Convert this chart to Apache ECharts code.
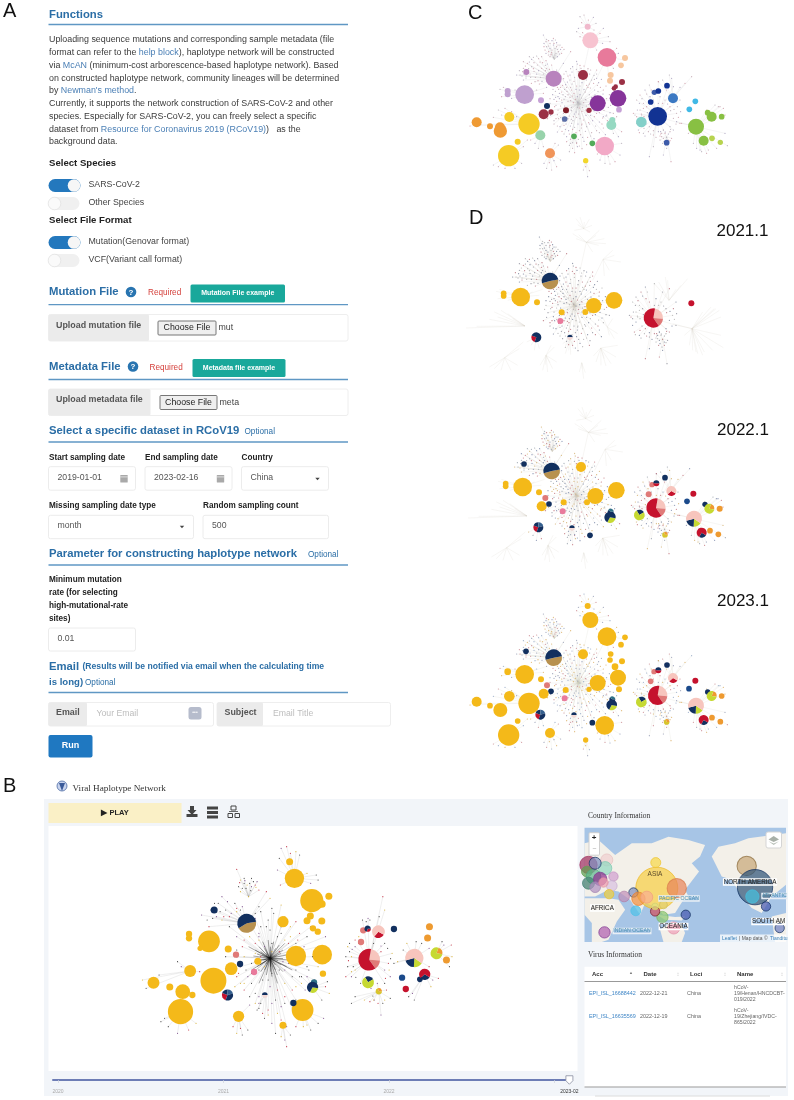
<!DOCTYPE html>
<html><head><meta charset="utf-8"><style>html,body{margin:0;background:#fff}#c{width:794px;height:1100px}</style>
<script src="https://cdn.jsdelivr.net/npm/echarts@6/dist/echarts.min.js"></script></head><body><div id="c"></div>
<script>
const pal={y:'#f4b919',navy:'#12305f',tan:'#b8914f',red:'#c5122d',salmon:'#e07a78',pink:'#f7c5bd',hot:'#e97a9c',yg:'#c6d932',org:'#ee9a30',blue:'#1b4a8b',steel:'#35608f',teal:'#2e6f86',pale:'#f3d9d6',gold:'#d8c52c',
 cPink:'#f0b9cc',cRose:'#f7c3d0',cHot:'#e87a9b',cPeach:'#f7c79f',cWine:'#9b3045',cPurp:'#86349a',cLil:'#c6a1d6',cMauve:'#b883bd',cLav:'#bfa0cf',cDark:'#7d1a25',cSlate:'#5a6ea6',cOrg:'#ef9a33',cYel:'#f5cb24',cMint:'#98d3ab',cCoral:'#f0955a',cGreen:'#54ab5a',cLem:'#f2d62b',cBub:'#f2a9c6',cAqua:'#96d9c2',cTeal:'#83d0c9',cCob:'#123393',cMid:'#3d5ba9',cSky:'#3b78c2',cCyan:'#41b9e6',cLeaf:'#88c043',cLime:'#b7d34f'};

// ---- panel C / D nodes: [x, y, diameter, colour key], layout units
const nodesC=[[443,80,18,'cPink'],[451,121,48,'cRose'],[501,172,56,'cHot'],[555,174,18,'cPeach'],[543,196,17,'cPeach'],[512,225,18,'cPeach'],[510,242,18,'cPeach'],[546,246,18,'cWine'],[527,260,14,'cWine'],[522,265,14,'cWine'],[534,295,50,'cPurp'],[537,329,17,'cLil'],[473,310,48,'cPurp'],[429,225,30,'cWine'],[341,236,48,'cMauve'],[259,216,18,'cMauve'],[254,284,56,'cLav'],[203,273,18,'cLav'],[203,283,18,'cLav'],[303,301,18,'cLil'],[321,318,18,'navy'],[333,336,16,'cWine'],[311,343,30,'cWine'],[378,331,18,'cDark'],[447,331,16,'cWine'],[374,357,17,'cSlate'],[110,367,30,'cOrg'],[150,379,18,'cOrg'],[181,393,40,'cOrg'],[180,382,30,'cOrg'],[208,351,30,'cYel'],[267,372,64,'cYel'],[301,406,30,'cMint'],[233,425,18,'cYel'],[206,467,64,'cYel'],[330,460,30,'cCoral'],[402,409,17,'cGreen'],[457,430,17,'cGreen'],[437,482,16,'cLem'],[494,438,56,'cBub'],[514,375,30,'cAqua'],[517,360,18,'cAqua'],[604,366,32,'cTeal'],[653,349,56,'cCob'],[680,428,17,'cMid'],[699,295,30,'cSky'],[632,306,17,'cCob'],[643,277,16,'cMid'],[655,273,17,'cCob'],[681,257,17,'cCob'],[766,304,17,'cCyan'],[748,328,17,'cCyan'],[768,380,48,'cLeaf'],[815,350,30,'cLeaf'],[803,338,17,'cLeaf'],[845,350,17,'cLeaf'],[791,422,30,'cLeaf'],[816,415,17,'cLime'],[841,427,16,'cLime']];
const nodesD1=[[191,280,17,'y'],[191,288,17,'y'],[242,291,56,'y'],[291,307,18,'y'],[365,337,18,'y'],[461,317,46,'y'],[436,336,18,'y'],[522,301,50,'y'],[361,363,18,'hot'],[754,310,18,'red']];
const nodesD2=[[197,281,17,'y'],[197,289,17,'y'],[248,291,56,'y'],[297,307,18,'y'],[371,337,18,'y'],[466,318,48,'y'],[441,337,18,'y'],[529,301,50,'y'],[423,231,30,'y'],[305,349,30,'y'],[327,342,17,'navy'],[316,324,18,'salmon'],[368,364,18,'hot'],[252,222,17,'navy'],[450,436,17,'navy'],[636,284,16,'salmon'],[675,263,17,'navy'],[626,313,18,'salmon'],[741,334,17,'blue'],[760,311,18,'red'],[795,343,16,'navy'],[839,356,18,'org'],[810,422,17,'org'],[835,433,17,'org']];
const nodesD3=[[443,78,18,'y'],[451,120,48,'y'],[501,170,56,'y'],[555,172,17,'y'],[543,194,17,'y'],[512,222,17,'y'],[510,240,17,'y'],[546,244,18,'y'],[525,260,20,'y'],[534,293,48,'y'],[537,328,18,'y'],[473,309,48,'y'],[447,328,16,'y'],[429,223,30,'y'],[254,283,56,'y'],[203,275,20,'y'],[303,298,18,'y'],[321,316,18,'salmon'],[333,334,17,'navy'],[311,341,30,'y'],[377,330,18,'y'],[374,355,18,'hot'],[110,365,30,'y'],[150,377,17,'y'],[181,390,42,'y'],[208,349,32,'y'],[267,370,64,'y'],[233,423,17,'y'],[206,465,64,'y'],[330,459,30,'y'],[437,480,16,'y'],[494,436,56,'y'],[258,214,17,'navy'],[457,428,17,'navy'],[642,275,16,'salmon'],[681,255,17,'navy'],[632,304,17,'salmon'],[747,326,17,'blue'],[766,302,18,'red'],[803,336,16,'navy'],[845,348,17,'org'],[816,413,17,'org'],[841,425,17,'org']];
// ---- pie nodes: [x, y, diameter, start angle, [[share, colour key], ...]]
const piesD1=[[330,243,50,-10,[[.486,'tan'],[.514,'navy']]],[289,412,30,110,[[.25,'red'],[.75,'navy']]],[390,412,16,180,[[.5,'navy'],[.5,'pale']]],[640,354,58,-80,[[.236,'pink'],[.139,'salmon'],[.625,'red']]]];
const piesD2=[[335,243,50,-10,[[.486,'tan'],[.514,'navy']]],[295,412,30,110,[[.25,'red'],[.2,'navy'],[.2,'steel'],[.35,'navy']]],[396,414,16,180,[[.5,'navy'],[.5,'pale']]],[512,365,18,0,[[.6,'navy'],[.4,'teal']]],[510,382,34,10,[[.3,'yg'],[.7,'navy']]],[648,354,58,-80,[[.236,'pink'],[.139,'salmon'],[.625,'red']]],[694,303,30,30,[[.3,'red'],[.7,'pink']]],[649,280,18,0,[[.5,'red'],[.5,'navy']]],[598,375,32,-120,[[.25,'navy'],[.75,'yg']]],[675,434,17,0,[[.7,'gold'],[.3,'org']]],[762,386,48,35,[[.16,'yg'],[.2,'navy'],[.64,'pink']]],[785,428,30,30,[[.25,'navy'],[.75,'red']]],[808,356,30,-70,[[.22,'org'],[.78,'yg']]]];
const piesD3=[[341,233,50,-10,[[.486,'tan'],[.514,'navy']]],[301,404,30,110,[[.25,'red'],[.2,'navy'],[.2,'steel'],[.35,'navy']]],[402,405,16,180,[[.5,'navy'],[.5,'pale']]],[517,358,18,0,[[.6,'navy'],[.4,'teal']]],[515,375,32,10,[[.3,'yg'],[.7,'navy']]],[653,346,58,-80,[[.236,'pink'],[.139,'salmon'],[.625,'red']]],[699,294,30,30,[[.3,'red'],[.7,'pink']]],[655,271,18,0,[[.5,'red'],[.5,'navy']]],[604,366,32,-120,[[.25,'navy'],[.75,'yg']]],[680,426,17,0,[[.7,'gold'],[.3,'org']]],[768,377,48,35,[[.16,'yg'],[.2,'navy'],[.64,'pink']]],[791,420,30,30,[[.25,'navy'],[.75,'red']]],[815,348,30,-70,[[.22,'org'],[.78,'yg']]]];

// ---- shared network skeleton (hub x, hub y, leaves x,y,x,y ...)
const fanCore=[345,240,352,262,338,284,330,310,336,332,348,356,360,380,372,402,392,418,410,430,432,424,452,408,470,392,486,372,498,348,505,322,500,296,490,270,476,248,462,226,444,206,420,196,398,200,378,214,362,228,368,256,382,246,404,232,428,236,448,252,464,270,474,292,480,316,470,340,458,362,440,380,418,392,398,388,378,372,362,352,354,330,350,304,358,280,374,268,392,262,410,258,432,268,448,284,458,304,452,326,438,346,420,356,400,350,384,338,374,318,372,298,384,284,402,280,420,284,436,298,440,318,426,334,408,336,394,322,392,302,406,298,420,312,412,322,342,372,322,356,352,396,388,436,426,446,460,430,496,404,515,300,520,340,470,210,410,184,350,210,355,245,365,300,380,330,395,370,425,375,445,330,465,285,455,240,435,222,415,215,390,225];
const fanH2=[240,225,250,205,262,190,275,178,290,168,305,170,318,182,262,216,272,232,285,245,298,252,250,240,275,200,292,195,305,205,290,222,310,222,320,205,335,195,230,225,268,170,250,185,392,155,370,190,258,228,282,214,300,186];
const fanH3=[312,130,320,118,330,130,340,115,350,128,360,135,372,148,365,160,352,170,340,172,325,165,315,150,330,145,345,145,355,155,335,158,310,105,320,140,350,140,342,130,362,148];
const fanTop1=[420,50,432,45,445,60,460,52,468,70,462,90,425,68,415,85];
const fanTop2=[410,95,420,110,428,98,490,85,505,110,510,125,480,100,488,130,470,150,430,215];
const fanN=[530,145,535,160,520,205,505,222,555,180,470,235];
const fanW1=[180,268,190,262,185,290,215,295,225,270,290,270,310,280,320,262];
const fanW2=[175,330,195,325,215,335,230,350,185,345,160,352,90,378,122,373];
const fanW3=[160,495,175,500,195,505,225,505,245,490,250,440,262,420];
const fanS1=[285,430,295,445,310,440,272,420];
const fanS2=[312,490,320,505,335,510,350,500,362,480,355,435,345,430,328,488,342,482];
const fanS3=[392,430,398,445,404,458,412,440,388,455,410,428,380,425];
const fanS4=[443,530,430,510,448,512,437,500];
const fanS5=[480,480,495,490,510,492,525,485,540,465,545,430,505,470,472,462];
const fanE1=[490,350,500,345,530,350,545,395,535,410,520,400];
const fanEast=[590,300,600,285,615,270,628,255,655,245,680,270,700,260,720,300,710,340,720,370,700,390,690,380,600,330,590,350,595,390,610,400,625,395,640,405,655,395,670,390,610,310,620,320,630,290,660,290,675,300,690,320,628,470,640,440,605,345,580,340];
const fanSub=[662,395,670,390,690,395,695,415,685,430,672,425,665,410,693,485,670,465,680,445,660,420];
const fanNE=[655,245,695,235,688,225,755,230,735,250,720,262,668,240];
const fanTree=[840,320,855,345,855,400,862,437,830,445,800,460,780,450,760,430,745,400,725,370,710,365,825,315,835,320,850,325,770,445,785,455,805,450,800,330];
const netFans=[['core',415,310,fanCore],['h2',341,236,fanH2],['h3',343,178,fanH3],['top1',443,80,fanTop1],['top2',451,121,fanTop2],['n',501,172,fanN],['w1',254,284,fanW1],['w2',267,372,fanW2],['w3',206,467,fanW3],['s1',301,406,fanS1],['s2',330,460,fanS2],['s3',402,409,fanS3],['s4',437,482,fanS4],['s5',494,438,fanS5],['e1',514,375,fanE1],['east',653,349,fanEast],['sub',680,410,fanSub],['ne',699,295,fanNE],['tree',768,380,fanTree]];
// dots without their own edge drawn
const cloudCore=[352,250,361,243,371,236,384,228,396,216,409,208,423,205,437,213,449,222,463,238,472,256,481,262,489,282,496,307,492,331,488,354,478,366,467,378,455,398,443,412,428,412,415,418,402,410,388,402,376,388,368,364,352,344,344,320,342,298,346,274,356,268,365,276,377,254,390,240,402,244,415,226,426,248,439,240,451,264,461,250,470,308,466,322,478,338,463,350,449,372,436,394,422,404,408,398,391,378,384,356,370,340,362,318,358,296,369,284,381,274,395,270,408,268,420,258,436,276,444,262,455,292,447,314,443,336,430,360,414,372,399,362,388,348,378,328,366,308,376,290,390,292,400,308,413,306,425,294,431,308,418,324,403,342,394,332,384,304,397,288,412,290,428,322,416,342,437,330,347,292,339,268,330,296,326,322,332,346,342,362,352,378,366,394,380,410,398,428,418,438,440,434,462,416,478,398,490,384,502,362,510,338,512,316,508,284,498,258,484,238,470,222,452,210,432,198,412,192,392,206,372,222,356,236,344,256,348,316,356,356,372,376,386,392,404,382,424,384,446,368,462,332,474,274,462,296,440,256,418,270,396,252,380,262,362,262,354,290,394,358,410,352,426,372,452,346,438,300];
const cloudH2=[248,215,256,198,268,186,280,172,296,176,308,188,322,192,258,234,270,222,280,206,296,212,302,232,316,212,328,208,246,228,238,212,282,188,294,242,306,244,266,206,286,232,274,250,252,222,316,196];
const cloudH3=[318,125,326,122,336,122,346,120,354,135,366,142,358,162,348,160,336,150,326,155,318,160,345,165,330,170,312,140,340,135,352,148,325,138,333,164];
const cloudEast=[598,310,606,296,620,282,634,270,592,330,585,345,590,370,598,398,615,408,632,402,648,412,662,402,676,396,692,388,708,372,715,352,722,335,712,320,702,328,612,350,618,372,628,380,640,392,610,325,622,338,612,385,600,360,604,342,683,312,692,332,700,355,668,310,655,310,640,300];
const cloudSub=[665,400,675,400,685,402,680,412,670,415,690,422,678,435,668,430,685,420,660,408];
const netClouds=[['core',cloudCore],['h2',cloudH2],['h3',cloudH3],['east',cloudEast],['sub',cloudSub]];

// ---- panel B
const nodesB=[[783,275,20,'y'],[796,325,55,'y'],[843,392,66,'y'],[870,402,22,'y'],[889,379,20,'y'],[839,438,20,'y'],[830,452,20,'y'],[870,453,20,'y'],[765,455,32,'y'],[846,475,18,'y'],[859,485,18,'y'],[800,558,58,'y'],[871,554,56,'y'],[873,611,18,'y'],[697,574,20,'y'],[617,537,20,'y'],[565,514,62,'y'],[511,492,18,'y'],[511,505,18,'y'],[541,535,15,'y'],[625,596,36,'y'],[514,603,34,'y'],[577,632,74,'y'],[415,638,34,'y'],[459,651,20,'y'],[494,665,42,'y'],[520,675,18,'y'],[488,725,72,'y'],[645,739,32,'y'],[765,766,20,'y'],[818,720,62,'y'],[579,420,20,'navy'],[649,582,18,'navy'],[793,699,18,'navy'],[638,554,18,'salmon'],[687,606,18,'hot'],[849,637,18,'teal'],[982,481,18,'salmon'],[976,516,18,'salmon'],[1065,477,18,'navy'],[1087,623,18,'blue'],[1097,657,18,'red'],[1135,628,16,'navy'],[1161,470,20,'org'],[1156,504,20,'org'],[1207,570,20,'org']];
const piesB=[[667,460,54,-10,[[.44,'tan'],[.56,'navy']]],[615,675,32,110,[[.25,'red'],[.2,'navy'],[.2,'steel'],[.35,'navy']]],[716,675,16,180,[[.5,'navy'],[.5,'pale']]],[845,652,32,10,[[.3,'yg'],[.7,'navy']]],[998,569,62,-80,[[.236,'pink'],[.139,'salmon'],[.625,'red']]],[1023,485,36,30,[[.28,'red'],[.72,'pink']]],[994,476,18,0,[[.3,'red'],[.7,'navy']]],[995,637,34,-120,[[.25,'navy'],[.75,'yg']]],[1024,664,18,0,[[.7,'gold'],[.3,'org']]],[1120,564,52,35,[[.16,'yg'],[.2,'navy'],[.64,'pink']]],[1148,613,32,30,[[.3,'navy'],[.7,'red']]],[1180,550,34,-70,[[.22,'org'],[.78,'yg']]]];
const fanBInner=[690,540,700,530,710,515,725,510,740,515,755,525,765,540,775,555,780,570,775,590,765,605,750,615,735,620,720,615,705,605,695,590,688,575,685,558,695,552,705,545,715,535,730,530,745,535,760,550,765,565,760,585,745,600,730,605,715,600,703,585,700,570,708,555,720,548,735,550,748,558,752,572,745,585,730,590,718,582,712,570,720,560,735,565,672,530,680,600,770,520,790,600,750,640,700,640];
const fanBCore=[620,470,640,500,655,530,660,560,665,600,680,640,700,680,725,720,750,730,770,700,800,690,825,660,850,630,860,590,800,520,830,500,840,470,800,455,770,440,740,430,720,470,700,490,690,520,690,550,700,600,710,630,730,650,750,660,770,640,790,620,800,600,780,580,790,540,770,510,750,500,735,520,715,530,705,560,715,590,735,610,755,600,765,575,755,545,735,545,720,555,680,580,670,620,660,660,690,700,715,745,745,790,775,770,640,620,650,640,640,560,610,560,880,500,860,530,760,405,735,415,705,425,690,445,660,510,675,500,705,470,745,690,760,710,790,660,815,640,835,600,845,560,820,540,810,490,785,470,760,470,725,450,680,470,650,590,635,650,675,680,700,715,735,760,760,750,795,730,680,610,725,630,770,600,780,520,700,510];
const fanBH2=[590,400,570,420,545,435,565,470,600,450,610,420,635,400,600,380,720,365,730,385,700,410,690,430,585,440,620,440,640,425,595,425,575,445,655,410];
const fanBH3=[640,298,650,330,660,340,680,325,695,335,700,360,650,365,645,350,665,355,680,350,690,345,672,380,660,325,675,340];
const fanBTop=[760,235,775,230,800,245,810,255,755,265,750,300,758,345,830,310,855,315,860,330,840,340,785,250];
const fanBEast=[940,530,935,560,940,590,950,620,935,620,960,600,975,640,1040,640,1055,620,1050,580,1060,550,1040,520,980,450,995,445,1035,380,1040,420,1025,440,1010,520,960,530,970,520,950,560,945,545,955,590,1040,600,1030,545];
const fanBLow=[1010,690,1035,700,1055,685,1030,735,1000,695,985,690,950,700,960,680,1020,640,1045,660];
const fanBNet=[1100,520,1125,515,1140,520,1160,535,1160,590,1075,575,1090,540,1065,580];
const fanBFar=[1200,525,1220,525,1222,560,1215,590,1195,515];
const fanBRed=[1170,630,1185,625,1165,650,1120,690,1105,680,1115,670];
const fanBA=[630,770,640,790,655,795,670,780,675,705,650,775];
const fanBC=[820,770,840,780,860,760,875,745,800,770,830,765];
const fanBD=[435,755,455,770,480,790,510,780,530,760,445,745];
const fanBE=[480,575,490,590,540,605,385,630,395,655,430,615];
const fanBF=[770,810,775,830,760,800,785,795];
const fanBG=[815,620,830,620,880,650,890,670,870,690,885,635];
const fanBH=[700,700,710,730,725,735,695,720];
const netFansB=[['c',730,565,fanBCore],['h2',667,460,fanBH2],['h3',672,380,fanBH3],['t',796,325,fanBTop],['e',998,569,fanBEast],['l',1024,664,fanBLow],['n',1120,564,fanBNet],['f',1180,550,fanBFar],['r',1148,613,fanBRed],['a',645,739,fanBA],['c2',818,720,fanBC],['d',488,725,fanBD],['e2',514,603,fanBE],['f2',765,766,fanBF],['g',845,652,fanBG],['h',716,675,fanBH]];
const netFansBInner=[['i',730,565,fanBInner]];
const cloudBEast=[945,520,952,538,942,572,950,605,962,622,985,645,1003,655,1042,625,1052,600,1056,566,1048,535,1030,528,960,510,970,500,990,455,1000,450,1012,690,1022,700,1040,690,1008,678];
const cloudBCore=[650,420,625,430,605,440,585,425,560,450,580,400,615,395,640,415,668,345,655,355,685,335,662,332,648,338,692,352,678,362,640,540,630,580,645,610,660,640,690,670,705,700,735,700,770,680,800,650,810,620,830,590,822,530,805,510,785,500,760,490,730,480,700,500];
const netCloudsB=[['e',cloudBEast],['c',cloudBCore]];

// ---- map bubbles: x, y, radius, fill, stroke
const mapLand=[[[28,130],[70,120],[120,165],[170,130],[230,130],[280,110],[340,120],[390,135],[375,170],[350,190],[372,215],[345,250],[330,270],[345,300],[325,300],[300,340],[265,345],[240,320],[210,310],[195,345],[165,300],[130,275],[100,270],[60,290],[28,290]],[[28,295],[100,295],[130,300],[150,330],[125,365],[100,420],[80,427],[50,427],[50,370],[28,345]],[[255,390],[290,365],[320,375],[330,400],[320,427],[265,427]],[[410,170],[430,140],[480,130],[520,115],[633,100],[633,255],[590,290],[560,340],[530,325],[500,290],[470,240],[440,230]],[[590,350],[633,340],[633,427],[600,427]],[[245,345],[300,352],[330,350],[320,362],[270,360]]];
const mapBubbles=[[40,195,26,'#a03060','#a03060'],[95,180,18,'#f0d0d0','#e8c0c0'],[90,205,20,'#90d8c0','#80c8b0'],[35,215,16,'#60a050','#60a050'],[55,230,22,'#60b890','#50a880'],[40,250,18,'#408070','#408070'],[75,237,20,'#903090','#803a90'],[115,230,14,'#d0a0d0','#c090c0'],[110,258,16,'#d8c0e0','#c8b0d0'],[60,262,16,'#b090c0','#a080b0'],[85,248,14,'#f0a0b0','#e090a0'],[60,190,18,'#8090c0','#12305f'],[245,265,63,'#f6cf45','#edb922'],[242,188,15,'#f6d84a','#edc432'],[305,265,29,'#e8855a','#d87a4a'],[515,198,29,'#c8a878','#8a6b3a'],[540,262,53,'#2f5578','#12305f'],[532,290,20,'#46bedc','#46bedc'],[573,320,14,'#4a5ab0','#12305f'],[614,385,14,'#7080c0','#12305f'],[332,345,14,'#4a5ab0','#12305f'],[262,352,17,'#8cc870','#7cb860'],[296,385,18,'#f0a0b8','#e090a8'],[240,335,14,'#d05060','#7a1a2a'],[182,333,15,'#50c0e8','#50c0e8'],[88,398,17,'#b060b0','#803a90'],[175,278,14,'#8090c0','#12305f'],[147,290,16,'#c090b8','#b080a8'],[190,297,20,'#f09040','#e88030'],[215,292,18,'#f8b090','#f0a080'],[102,283,14,'#f0d040','#e8c030'],[240,320,10,'#e0e080','#d0d070'],[265,315,12,'#e0d070','#d0c060']];

// ---- timeline
const timeTicks=[2020,2021,2022,2023];
const timeLabels=[2020,2021,2022,2023.09];
const timeEnd=2023.09;

const FF='"Liberation Sans",Arial,sans-serif', SF='"Liberation Serif",serif';
const BLUE='#2b6ea6',LINK='#4a7fb5',TXT='#3a3a3a',LINEC='#5f97c4';
const g=[];
const mc=document.createElement('canvas').getContext('2d');
function T(t,x,y,size,fill,o){o=o||{};const w=o.bold?'bold ':'';g.push({type:'text',z:o.z||20,silent:true,style:{text:t,x,y,fill:fill||TXT,font:w+size+'px '+(o.ff||FF),align:o.align||'left',verticalAlign:'middle',textBorderColor:o.halo,textBorderWidth:o.halo?1.5:0}});}
function L(x,y,size,segs){mc.font=size+'px "Liberation Sans"';segs.forEach(s=>{T(s[0],x,y,size,s[1]);x+=mc.measureText(s[0]).width;});}
function R(x,y,w,h,fill,stroke,r,z){g.push({type:'rect',z:z===undefined?0:z,silent:true,shape:{x,y,width:w,height:h,r:r||0},style:{fill:fill||'none',stroke:stroke||null,lineWidth:stroke?1:0}});}
function C(x,y,r,fill,stroke,z){g.push({type:'circle',z:z||20,silent:true,shape:{cx:x,cy:y,r},style:{fill,stroke:stroke||null,lineWidth:stroke?.7:0}});}
function P(pts,fill,z){g.push({type:'polygon',z:z||20,silent:true,shape:{points:pts},style:{fill}});}
function HL(x1,x2,y,col,lw,z){g.push({type:'line',z:z||1,silent:true,shape:{x1,y1:y,x2,y2:y},style:{stroke:col||LINEC,lineWidth:lw||1.3}});}
function toggle(y,on){R(48.5,y,on?32:31,13,on?'#2478bd':'#f0f0f0',null,6.5,1);C(on?74:54.5,y+6.5,6.3,on?'#f6f6f6':'#fafafa',on?null:'#e0e0e0',2);}
function input(x,y,w,h){R(x,y,w,h,'#fff','#ececec',2,1);}
function caret(x,y){P([[x-2.2,y-1.2],[x+2.2,y-1.2],[x,y+1.3]],'#444');}
function cal(x,y){R(x-3.7,y-3.5,7.4,7.5,'#a9a9a9',null,.5,2);HL(x-3.7,x+3.7,y-1.6,'#fff',.6,3);}
function help(x,y){C(x,y,5.3,'#2874b0');T('?',x,y+.3,8,'#fff',{bold:1,align:'center',z:21});}

// panel letters
T('A',3,11.5,20,'#111');T('B',3,786,20,'#111');T('C',468,13,20,'#111');T('D',469,218,20,'#111');
T('2021.1',716.5,231.5,17,'#111');T('2022.1',717,430.5,17,'#111');T('2023.1',717,601.5,17,'#111');

// panel A
T('Functions',49,15,11.3,BLUE,{bold:1});HL(48.5,348,24.5);
const body=[[['Uploading sequence mutations and corresponding sample metadata (file',TXT]],[['format can refer to the ',TXT],['help block',LINK],['), haplotype network will be constructed',TXT]],[['via ',TXT],['McAN',LINK],[' (minimum-cost arborescence-based haplotype network). Based',TXT]],[['on constructed haplotype network, community lineages will be determined',TXT]],[['by ',TXT],["Newman's method",LINK],['.',TXT]],[['Currently, it supports the network construction of SARS-CoV-2 and other',TXT]],[['species. Especially for SARS-CoV-2, you can freely select a specific',TXT]],[['dataset from ',TXT],['Resource for Coronavirus 2019 (RCoV19)',LINK],[')   as the',TXT]],[['background data.',TXT]]];
body.forEach((s,i)=>L(49,40+i*12.75,8.9,s));
T('Select Species',49,163.7,9.6,'#222',{bold:1});
toggle(179,true);T('SARS-CoV-2',88.5,185,8.8,'#444');
toggle(197,false);T('Other Species',88.5,203,8.8,'#444');
T('Select File Format',49,220.5,9.6,'#222',{bold:1});
toggle(236,true);T('Mutation(Genovar format)',88.5,242,8.8,'#444');
toggle(254,false);T('VCF(Variant call format)',88.5,260,8.8,'#444');
function fileBlock(title,ty,hx,rx,bx,bw,btn,ly,gy,gw,up,cx,cw,fn){T(title,49,ty,11.3,BLUE,{bold:1});help(hx,ty);T('Required',rx,ty+1,8.2,'#d43f3a');R(bx,ty-7.5,bw,18,'#19a89b',null,1.5,1);T(btn,bx+bw/2,ty+1.5,7,'#fff',{bold:1,align:'center'});HL(48.5,348,ly);R(48.5,gy,299.5,26.5,'#fff','#eeeeee',2,1);R(48.5,gy,gw,26.5,'#ebebeb',null,1.5,1);T(up,56,gy+11,8.9,'#555',{bold:1});R(cx,gy+6.5,cw,14,'#efefef','#777',1,2);T('Choose File',cx+cw/2,gy+13.5,8.8,'#222',{align:'center'});T(fn,cx+cw+2.5,gy+13.5,8.8,'#444');}
fileBlock('Mutation File',292,131,148,190.5,94.5,'Mutation File example',304.7,314.5,100.5,'Upload mutation file',158,58,'mut');
fileBlock('Metadata File',366.5,133,149.5,192.5,93,'Metadata file example',379.5,389,102,'Upload metadata file',160,57,'meta');
T('Select a specific dataset in RCoV19',49,430.7,11.3,BLUE,{bold:1});T('Optional',244.5,431.5,8.2,BLUE);HL(48.5,348,442);
T('Start sampling date',49,457.5,8.2,'#222',{bold:1});T('End sampling date',145,457.5,8.2,'#222',{bold:1});T('Country',241.5,457.5,8.2,'#222',{bold:1});
input(48.5,466.7,87,23.5);input(145,466.7,87,23.5);input(241.5,466.7,87,23.5);
T('2019-01-01',57.5,478,8.7,'#555');cal(124,478.5);T('2023-02-16',154,478,8.7,'#555');cal(220.5,478.5);T('China',250.5,478,8.7,'#555');caret(317.5,479);
T('Missing sampling date type',49,505.5,8.2,'#222',{bold:1});T('Random sampling count',203,505.5,8.2,'#222',{bold:1});
input(48.5,515.3,145,23.4);input(203,515.3,125.5,23.4);T('month',57.5,526,8.7,'#555');caret(182,527);T('500',212,526,8.7,'#555');
T('Parameter for constructing haplotype network',49,553.5,11.3,BLUE,{bold:1});T('Optional',308,554.5,8.2,BLUE);HL(48.5,348,565);
['Minimum mutation','rate (for selecting','high-mutational-rate','sites)'].forEach((s,i)=>T(s,49,580+i*12.75,8.2,'#222',{bold:1}));
input(48.5,628,87,23);T('0.01',57.5,639,8.7,'#555');
T('Email',49,666.5,11.3,BLUE,{bold:1});T('(Results will be notified via email when the calculating time',82.5,667,8.6,BLUE,{bold:1});
T('is long)',49,682.5,9.6,BLUE,{bold:1});T('Optional',85,683,8.2,BLUE);HL(48.5,348,692.5);
R(48.5,702.5,165,23.5,'#fff','#eeeeee',2,1);R(48.5,702.5,38.5,23.5,'#ebebeb',null,1.5,1);T('Email',56,713,8.9,'#555',{bold:1});T('Your Email',96.5,713.5,8.7,'#bdbdbd');
R(188.5,707,13,12.5,'#b6bccc',null,2.5,2);T('\u2022\u2022\u2022',195,713,5,'#fff',{align:'center'});
R(217,702.5,173.5,23.5,'#fff','#eeeeee',2,1);R(217,702.5,46,23.5,'#ebebeb',null,1.5,1);T('Subject',224.5,713,8.9,'#555',{bold:1});T('Email Title',273,713.5,8.7,'#bdbdbd');
R(48.5,735,44,22.5,'#1f78c1',null,2,1);T('Run',70.5,746,9,'#fff',{bold:1,align:'center'});

// panel B chrome
C(62,786,5,'#c8d4ee','#3a5a9a',3);P([[59,783],[65,783],[62,791]],'#3a5a9a',4);
T('Viral Haplotype Network',72.5,788.5,9.2,'#333',{ff:SF});
R(44,799,744,297,'#f2f5f9',null,0,0);
R(48.5,803,133,20,'#faf0c6',null,0,1);T('\u25B6 PLAY',115,812.5,7.5,'#222',{bold:1,align:'center'});
// toolbar icons
P([[190,806],[194,806],[194,810],[196.5,810],[192,815],[187.5,810],[190,810]],'#444');R(186.5,814,11,3,'#444',null,0,3);
R(207,806.5,11,3,'#444',null,0,3);R(207,811,11,3,'#444',null,0,3);R(207,815.5,11,3,'#444',null,0,3);
R(231,806,5,4,'none','#444',0,3);R(228,813.5,4.5,4,'none','#444',0,3);R(235,813.5,4.5,4,'none','#444',0,3);HL(229,238,811.5,'#444',.8,3);
R(48.5,826,529,245,'#fff',null,0,1);

// right column
T('Country Information',588,816,7.5,'#333',{ff:SF});
R(584.5,827.7,201.5,114.3,'#a7c5e6',null,0,1);
T('Virus Information',588,955,7.5,'#333',{ff:SF});
R(584.5,966.7,201.5,120.5,'#fff',null,0,1);
[['Acc',592],['Date',643.5],['Loci',690],['Name',737]].forEach(a=>T(a[0],a[1],974,6,'#333',{bold:1}));
T('\u25B2',631,973,4,'#777',{align:'center'});[678,725,782].forEach(x=>T('\u2195',x,974,6,'#ccc',{align:'center'}));
HL(584.5,786,981.5,'#999',1,3);HL(584.5,786,1087,'#999',1,3);HL(595,770,1096,'#dcdcdc',1,3);
[[994,'EPI_ISL_16688442','2022-12-21',['hCoV-','19/Henan/HNCDCBT-','019/2022']],[1017,'EPI_ISL_16635569','2022-12-19',['hCoV-','19/Zhejiang/IVDC-','865/2022']]].forEach(r=>{T(r[1],589,r[0],5.4,'#3d85c6');T(r[2],640,r[0],5.4,'#666');T('China',687,r[0],5.4,'#666');r[3].forEach((s,i)=>T(s,734,r[0]-6+i*6,5.2,'#666'));});
// map overlays (zoom control, layers, labels)
R(589,832.7,10.5,22.5,'#fff','#cfcfcf',1,25);T('+',594.2,837.7,8,'#222',{bold:1,align:'center',z:26});T('\u2212',594.2,849,7,'#aaa',{align:'center',z:26});
R(766,832,15.5,16,'#fff','#d5d5d5',2,25);P([[773.7,836],[779,839.5],[773.7,842],[768.5,839.5]],'#a8b0a8',26);P([[768.5,841.2],[773.7,845],[779,841.2],[773.7,843.5]],'#b8c0b8',26);
T('ASIA',655,874.5,6.5,'#5a4a2a',{align:'center',z:25});
T('NORTH AMERICA',750,882,6.3,'#222',{align:'center',halo:'#fff',z:25});
T('AFRICA',602.3,908,6.3,'#222',{align:'center',halo:'#fff',z:25});
T('OCEANIA',673.5,926.5,6.3,'#222',{align:'center',halo:'#fff',z:25});
T('SOUTH AM',752,921.5,6.3,'#222',{halo:'#fff',z:25,align:'left'});
T('PACIFIC OCEAN',679,898.5,5.2,'#4a90b0',{align:'center',halo:'#e8eef5',z:25});
T('INDIAN OCEAN',632,931,5.2,'#4a90b0',{align:'center',halo:'#e8eef5',z:25});
T('ATLANTIC',762,896,5.2,'#4a90b0',{halo:'#e8eef5',z:25});
R(720,934.5,66,7.5,'rgba(255,255,255,.75)',null,0,26);
T('Leaflet',722,938.5,5,'#3a80b8',{z:27});T('| Map data \u00A9 ',739,938.5,5,'#555',{z:27});T('Tianditu',770,938.5,5,'#3a80b8',{z:27});

// ---- echarts composition
const grids=[],xs=[],ys=[],series=[];
function addGrid(left,top,w,h,x0,x1,y0,y1){const i=grids.length;grids.push({left,top,width:w,height:h,containLabel:false,show:false});
 xs.push({gridIndex:i,type:'value',min:x0,max:x1,show:false});ys.push({gridIndex:i,type:'value',min:y0,max:y1,inverse:true,show:false});return i;}
function fans(list,clouds,gi,lineCol,lineOp,lw,dotPal,dotNames,dotSize){
 const segs=[],dots=[];let k=0;
 const show=n=>!dotNames||dotNames.includes(n);
 list.forEach(f=>{const a=f[3];for(let j=0;j<a.length;j+=2){segs.push({coords:[[f[1],f[2]],[a[j],a[j+1]]]});
   if(show(f[0])){dots.push({value:[a[j],a[j+1]],itemStyle:{color:dotPal[k%dotPal.length],opacity:1}});k++;}}});
 clouds.forEach(f=>{if(!show(f[0]))return;const a=f[1];for(let j=0;j<a.length;j+=2){dots.push({value:[a[j],a[j+1]],itemStyle:{color:dotPal[k%dotPal.length],opacity:1}});k++;}});
 series.push({type:'lines',coordinateSystem:'cartesian2d',xAxisIndex:gi,yAxisIndex:gi,data:segs,z:2,silent:true,animation:false,lineStyle:{color:lineCol,width:lw,opacity:lineOp,curveness:0}});
 series.push({type:'scatter',xAxisIndex:gi,yAxisIndex:gi,data:dots,symbolSize:dotSize,z:3,silent:true,animation:false});
}
function nodes(data,pies,gi,unit){
 series.push({type:'scatter',xAxisIndex:gi,yAxisIndex:gi,z:5,silent:true,animation:false,
  data:data.map(n=>({value:[n[0],n[1]],symbolSize:n[2]/unit,itemStyle:{color:pal[n[3]],opacity:1}}))});
 const sl=[];pies.forEach(p=>{let a=p[3]*Math.PI/180;p[4].forEach(s=>{const b=a+s[0]*2*Math.PI;sl.push({value:[p[0],p[1],p[2],a,b],fill:pal[s[1]]});a=b;});});
 series.push({type:'custom',xAxisIndex:gi,yAxisIndex:gi,z:6,silent:true,animation:false,clip:false,encode:{x:0,y:1},data:sl,
  renderItem(params,api){const c=api.coord([api.value(0),api.value(1)]);return {type:'sector',shape:{cx:c[0],cy:c[1],r:api.value(2)/unit/2,r0:0,startAngle:api.value(3),endAngle:api.value(4),clockwise:true},style:{fill:sl[params.dataIndex].fill}};}});
}
function panel(ox,oy,ndx,ndy,data,pies,lc,lo,dp,names){
 const net=addGrid(ox+ndx,oy+ndy,354,200,0,1062,0,600);fans(netFans,netClouds,net,lc,lo,.35,dp,names,1.1);
 const n=addGrid(ox,oy,354,200,0,1062,0,600);nodes(data,pies,n,3);
}
panel(440,0,0,0,nodesC,[],'#bdbdbd',.45,['#c3a5b0','#cf9aa6','#a79dbd','#b5acb8'],null);
panel(440,200,-4,2,nodesD1,piesD1,'#c8c6ba',.45,['#8f8f9c','#b8707b','#76819a','#aeaeae'],['core','h2','h3','east','sub']);
panel(440,390,-2,2,nodesD2,piesD2,'#c8c6ba',.45,['#7e8cad','#c4757d','#d4af6c','#98a2ad'],['core','h2','h3','east','sub','ne','tree','e1','s3','s1']);
panel(440,580,0,-1,nodesD3,piesD3,'#cdc9b5',.45,['#94a8c6','#dcb067','#959cb6','#cc8b93'],null);
const gB=addGrid(0,770,580,330,0,1568,0,990);
fans(netFansB,netCloudsB,gB,'#7a7a7a',.35,.35,['#333333','#7a4a8a','#c2263a','#d9b030','#444444'],null,1.1);
fans(netFansBInner,[],gB,'#111111',.75,.5,['#111111'],['none'],1);
nodes(nodesB,piesB,gB,2.85);

const gM=addGrid(584.5,827.7,201.5,114.3,28,633,83,427);
series.push({type:'custom',xAxisIndex:gM,yAxisIndex:gM,z:3,silent:true,animation:false,clip:true,data:mapLand.map((p,i)=>[p[0][0],p[0][1],i]),encode:{x:0,y:1},
 renderItem(params,api){const pts=mapLand[params.dataIndex].map(q=>api.coord(q));return {type:'polygon',shape:{points:pts},style:{fill:'#f3f0e9'}};}});
series.push({type:'scatter',xAxisIndex:gM,yAxisIndex:gM,z:4,silent:true,animation:false,clip:true,
 data:mapBubbles.map(b=>({value:[b[0],b[1]],symbolSize:b[2]*2/3,itemStyle:{color:b[3],opacity:.72,borderColor:b[4],borderWidth:1}}))});

// timeline slider: real axis at the panel foot
const iT=grids.length;grids.push({left:53,top:1070,width:516.4,height:10,show:false});
xs.push({gridIndex:iT,type:'value',min:2019.97,max:timeEnd,axisLine:{show:true,lineStyle:{color:'#6d7db5',width:2}},splitLine:{show:false},
 axisTick:{show:true,customValues:timeTicks,length:3,lineStyle:{color:'#cfd3dc',width:.7}},
 axisLabel:{show:true,customValues:timeLabels,margin:9,fontSize:5,fontFamily:FF,color:v=>v>2023?'#333':'#aaa',formatter:v=>v>2023?'2023-02':String(v)}});
ys.push({gridIndex:iT,type:'value',min:0,max:1,show:false});
series.push({type:'scatter',xAxisIndex:iT,yAxisIndex:iT,data:[[timeEnd,0]],symbol:'path://M0 0 L10 0 L10 7 L5 12 L0 7 Z',symbolSize:[7,8.5],z:8,silent:true,animation:false,clip:false,itemStyle:{color:'#fff',borderColor:'#8a8fa0',borderWidth:.8,opacity:1}});

const chart=echarts.init(document.getElementById('c'),null,{width:794,height:1100,renderer:'canvas'});
chart.setOption({animation:false,backgroundColor:'#fff',grid:grids,xAxis:xs,yAxis:ys,series,graphic:{elements:g},tooltip:{show:false}});
</script></body></html>
